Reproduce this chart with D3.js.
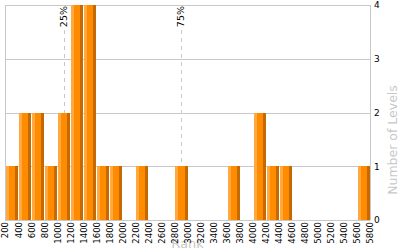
<!DOCTYPE html>
<html lang="en">
<head>
  <meta charset="UTF-8">
  <title>Levels by Rank</title>
  <script src="https://cdn.jsdelivr.net/npm/d3@7"></script>
  <style>
    html, body {
      margin: 0;
      padding: 0;
      background: #fff;
    }
    svg text {
      font-family: "DejaVu Sans", Verdana, sans-serif;
    }
  </style>
</head>
<body>
  <svg id="chart" width="400" height="250"></svg>
  <script>
    // bin edges along the rank axis (also the tick labels)
    const rankTicks = [200, 400, 600, 800, 1000, 1200, 1400, 1600, 1800, 2000,
      2200, 2400, 2600, 2800, 3000, 3200, 3400, 3600, 3800, 4000,
      4200, 4400, 4600, 4800, 5000, 5200, 5400, 5600, 5800];
    // number of levels per 200-wide bin
    const levelCounts = [1, 2, 2, 1, 2, 4, 4, 1, 1, 0, 1, 0, 0, 1,
      0, 0, 0, 1, 0, 2, 1, 1, 0, 0, 0, 0, 0, 1];
    const countTicks = [0, 1, 2, 3, 4];
    const percentiles = [
      {label: '25%', rank: 1100},
      {label: '75%', rank: 2900},
    ];

    const svg = d3.select('#chart');
    const plotL = 5, plotR = 370, plotT = 5, plotB = 220;

    const x = d3.scaleLinear()
      .domain([rankTicks[0], rankTicks[rankTicks.length - 1]])
      .range([plotL, plotR]);
    const y = d3.scaleLinear()
      .domain([0, 4])
      .range([plotB, plotT]);

    // horizontal grid
    svg.append('g')
      .selectAll('line')
      .data(countTicks)
      .join('line')
      .attr('x1', plotL)
      .attr('x2', plotR)
      .attr('y1', d => Math.round(y(d)) + 0.5)
      .attr('y2', d => Math.round(y(d)) + 0.5)
      .attr('stroke', '#c8c8c8');

    // side frame lines
    svg.append('g')
      .selectAll('line')
      .data([plotL, plotR])
      .join('line')
      .attr('x1', d => d + 0.5)
      .attr('x2', d => d + 0.5)
      .attr('y1', plotT)
      .attr('y2', plotB)
      .attr('stroke', '#c8c8c8');

    // percentile markers
    const pct = svg.append('g');
    pct.selectAll('line')
      .data(percentiles)
      .join('line')
      .attr('x1', d => Math.round(x(d.rank)) + 0.5)
      .attr('x2', d => Math.round(x(d.rank)) + 0.5)
      .attr('y1', 30)
      .attr('y2', plotB)
      .attr('stroke', '#c8c8c8')
      .attr('stroke-dasharray', '4,4');
    pct.selectAll('text')
      .data(percentiles)
      .join('text')
      .attr('transform', d => `translate(${Math.round(x(d.rank)) + 3},6) rotate(-90)`)
      .attr('text-anchor', 'end')
      .attr('font-size', 9.5)
      .attr('fill', '#000')
      .text(d => d.label);

    // bars, each with a light left edge and a dark right edge
    const bins = levelCounts.map((c, i) => ({x0: rankTicks[i], x1: rankTicks[i + 1], count: c}))
      .filter(d => d.count > 0);
    const bar = svg.append('g')
      .selectAll('g')
      .data(bins)
      .join('g')
      .attr('transform', d => `translate(${Math.round(x(d.x0)) + 1},${Math.round(y(d.count))})`);
    const barW = d => Math.round(x(d.x1)) - Math.round(x(d.x0)) - 1;
    const barH = d => plotB - Math.round(y(d.count));
    bar.append('rect')
      .attr('width', barW)
      .attr('height', barH)
      .attr('fill', '#ff8c00');
    bar.append('rect')
      .attr('width', 3)
      .attr('height', barH)
      .attr('fill', '#ffa940');
    bar.append('rect')
      .attr('x', d => barW(d) - 3)
      .attr('width', 3)
      .attr('height', barH)
      .attr('fill', '#c46a00');

    // x axis label (drawn under the tick labels)
    svg.append('text')
      .attr('x', (plotL + plotR) / 2)
      .attr('y', 248)
      .attr('text-anchor', 'middle')
      .attr('font-size', 13)
      .attr('fill', '#c8c8c8')
      .text('Rank');

    // x ticks
    const xAxis = svg.append('g')
      .attr('transform', `translate(0,${plotB})`)
      .call(d3.axisBottom(x).tickValues(rankTicks).tickSize(0).tickPadding(0).tickFormat(d3.format('d')));
    xAxis.select('.domain').attr('stroke', '#c8c8c8');
    xAxis.selectAll('text')
      .attr('transform', 'rotate(-90)')
      .attr('text-anchor', 'end')
      .attr('x', -2)
      .attr('y', 0)
      .attr('dy', '0.35em')
      .attr('font-size', 8.5)
      .attr('font-family', '"DejaVu Sans", Verdana, sans-serif')
      .attr('fill', '#000');

    // y ticks on the right
    const yAxis = svg.append('g')
      .attr('transform', `translate(${plotR},0)`)
      .call(d3.axisRight(y).tickValues(countTicks).tickSize(0).tickPadding(4).tickFormat(d3.format('d')));
    yAxis.select('.domain').remove();
    yAxis.selectAll('text')
      .attr('font-size', 9)
      .attr('font-family', '"DejaVu Sans", Verdana, sans-serif')
      .attr('fill', '#000');

    // y axis title
    svg.append('text')
      .attr('transform', 'translate(397,140) rotate(-90)')
      .attr('text-anchor', 'middle')
      .attr('font-size', 12.5)
      .attr('fill', '#c8c8c8')
      .text('Number of Levels');
  </script>
</body>
</html>
